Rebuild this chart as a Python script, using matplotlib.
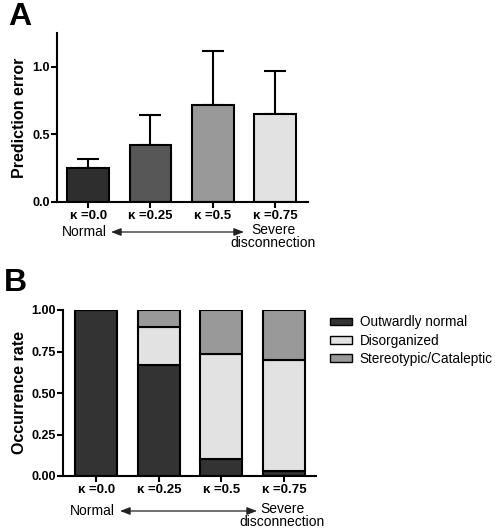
import matplotlib
matplotlib.use('Agg')
import matplotlib.pyplot as plt
import numpy as np

plt.rcParams['font.family'] = ['Liberation Sans', 'DejaVu Sans']

# data
kappa_labels = ['κ =0.0', 'κ =0.25', 'κ =0.5', 'κ =0.75']
pred_error = [0.25, 0.42, 0.72, 0.65]
pred_sem = [0.07, 0.22, 0.40, 0.32]
bar_colors_a = ['#2e2e2e', '#575757', '#999999', '#e2e2e2']

series_names = ['Outwardly normal', 'Disorganized', 'Stereotypic/Cataleptic']
outwardly_normal = [1.00, 0.67, 0.10, 0.03]
disorganized = [0.00, 0.23, 0.635, 0.67]
stereotypic = [0.00, 0.10, 0.265, 0.30]
series_colors = ['#333333', '#e2e2e2', '#999999']

W, H = 498, 531
fig = plt.figure(figsize=(W / 100, H / 100), dpi=100)


def px_axes(left, top, right, bottom):
    return fig.add_axes([left / W, 1 - bottom / H, (right - left) / W, (bottom - top) / H])


def style_axes(ax):
    for s in ['top', 'right']:
        ax.spines[s].set_visible(False)
    for s in ['left', 'bottom']:
        ax.spines[s].set_linewidth(1.5)
    ax.tick_params(axis='both', width=1.5, length=4, direction='out')
    ax.tick_params(axis='y', labelsize=9, pad=1)
    ax.tick_params(axis='x', labelsize=9.5, pad=2)
    for lbl in ax.get_xticklabels() + ax.get_yticklabels():
        lbl.set_fontweight('bold')


def severity_arrow(y_arrow, x0, x1, x_normal, x_severe):
    fig.text(x_normal / W, 1 - y_arrow / H, 'Normal', ha='right', va='center', fontsize=10)
    fig.text(x_severe / W, 1 - (y_arrow - 2) / H, 'Severe', ha='center', va='center', fontsize=10)
    fig.text(x_severe / W, 1 - (y_arrow + 11) / H, 'disconnection', ha='center', va='center', fontsize=10)
    fig.patches.append(matplotlib.patches.FancyArrowPatch(
        (x0 / W, 1 - y_arrow / H), (x1 / W, 1 - y_arrow / H), transform=fig.transFigure,
        arrowstyle='<|-|>,head_length=6,head_width=2.3', color='#222222', lw=0.9,
        shrinkA=0, shrinkB=0))


x = np.arange(len(kappa_labels))

# panel A
axA = px_axes(57, 33, 308, 202)
axA.bar(x, pred_error, width=0.67, color=bar_colors_a, edgecolor='black', linewidth=1.5, zorder=2)
axA.errorbar(x, pred_error, yerr=[np.zeros(4), pred_sem], fmt='none', ecolor='black',
             elinewidth=1.5, capsize=8, capthick=1.5, zorder=1)
axA.set_xlim(-0.5, 3.53)
axA.set_ylim(0, 1.25)
axA.set_yticks([0.0, 0.5, 1.0])
axA.set_yticklabels(['0.0', '0.5', '1.0'])
axA.set_xticks(x)
axA.set_xticklabels(kappa_labels)
axA.set_ylabel('Prediction error', fontsize=11.5, fontweight='bold')
axA.yaxis.set_label_coords((27 - 57) / 251, 0.5)
style_axes(axA)
fig.text(8 / W, 1 - 25 / H, 'A', fontsize=23, fontweight='bold', va='baseline', ha='left')
severity_arrow(232, 111, 244, 107, 273)

# panel B
axB = px_axes(63, 310, 316, 476)
bottoms = np.zeros(4)
for vals, name, col in zip([outwardly_normal, disorganized, stereotypic], series_names, series_colors):
    axB.bar(x, vals, bottom=bottoms, width=0.67, color=col, edgecolor='black', linewidth=1.5,
            label=name)
    bottoms = bottoms + np.array(vals)
axB.set_xlim(-0.53, 3.51)
axB.set_ylim(0, 1.0)
axB.set_yticks([0, 0.25, 0.5, 0.75, 1.0])
axB.set_yticklabels(['0.00', '0.25', '0.50', '0.75', '1.00'])
axB.set_xticks(x)
axB.set_xticklabels(kappa_labels)
axB.set_ylabel('Occurrence rate', fontsize=11.5, fontweight='bold')
axB.yaxis.set_label_coords((27 - 63) / 253, 0.5)
style_axes(axB)
fig.text(4 / W, 1 - 291 / H, 'B', fontsize=23, fontweight='bold', va='baseline', ha='left')
severity_arrow(511, 120, 257, 115, 282)

leg = axB.legend(loc='upper left', bbox_to_anchor=(325 / W, 1 - 310 / H), bbox_transform=fig.transFigure,
                 frameon=False, fontsize=9.8, handlelength=1.55, handleheight=0.5, handletextpad=0.6,
                 labelspacing=0.3, borderaxespad=0)
for p in leg.get_patches():
    p.set_linewidth(1.0)

fig.savefig('out.png', dpi=100)
